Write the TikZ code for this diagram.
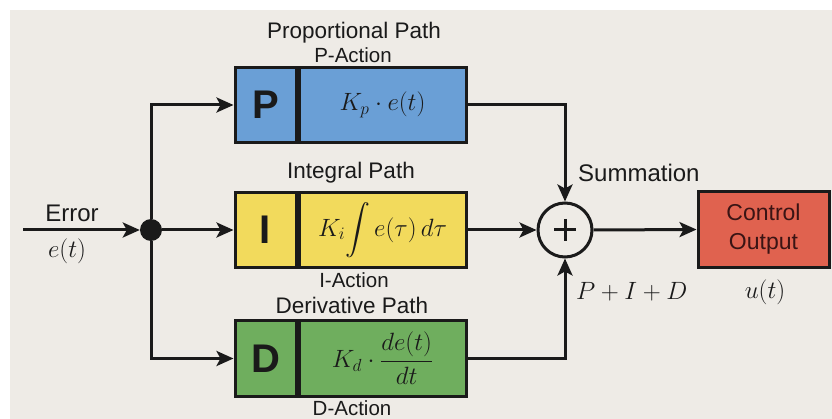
\documentclass[tikz,border=0pt]{standalone}
\usepackage{fix-cm}
\usepackage{amsmath}
\usepackage{exscale}
\usepackage{fontspec}
\setmainfont{Liberation Sans}
\usetikzlibrary{arrows.meta,calc}
\definecolor{bg}{HTML}{EEEBE6}
\definecolor{ink}{HTML}{1A1A1A}
\definecolor{pblue}{HTML}{6A9FD6}
\definecolor{iyel}{HTML}{F2DA5C}
\definecolor{dgreen}{HTML}{6FAE5E}
\definecolor{ored}{HTML}{E0624F}
\definecolor{otext}{HTML}{3A1414}
\begin{document}
\begin{tikzpicture}[x=1pt,y=-1pt,
  title/.style={font=\fontsize{22.5}{26}\selectfont, inner sep=0, text=ink},
  subt/.style={font=\fontsize{20.5}{24}\selectfont, inner sep=0, text=ink},
  lett/.style={draw=ink, line width=3pt, minimum width=61pt, minimum height=75pt, inner sep=0,
    font=\fontsize{40}{40}\selectfont\bfseries, text=ink},
  form/.style={draw=ink, line width=3pt, minimum width=167pt, minimum height=75pt, inner sep=0,
    font=\fontsize{25}{29}\selectfont, text=ink},
  wire/.style={line width=3pt, draw=ink},
  conn/.style={wire, -{Stealth[length=17pt,width=15pt,inset=4pt]}},
]
\useasboundingbox (0,0) rectangle (832,419);
\fill[white] (0,0) rectangle (832,419);
\fill[bg] (10,10) rectangle (832,419);

% blocks
\node[lett, fill=pblue] (pL) at (265.5,105) {P};
\node[form, fill=pblue, anchor=west] (pR) at (pL.east) {$K_p\cdot e(t)$};
\node[lett, fill=iyel] (iL) at (265.5,230) {I};
\node[form, fill=iyel, anchor=west] (iR) at (iL.east) {$\displaystyle K_i\!\int e(\tau)\,d\tau$};
\node[lett, fill=dgreen] (dL) at (265.5,358.5) {D};
\node[form, fill=dgreen, anchor=west] (dR) at (dL.east) {$\displaystyle K_d\cdot\frac{de(t)}{dt}$};

% labels
\node[title] (tp) at (354,33) {Proportional Path};
\node[subt] (sp) at (353,55) {P-Action};
\node[title] (ti) at (351,173) {Integral Path};
\node[subt] (si) at (354,280) {I-Action};
\node[title] (td) at (352,305) {Derivative Path};
\node[subt] (sd) at (352,408) {D-Action};

% junction and input
\node[circle, fill=ink, minimum size=22pt, inner sep=0] (j) at (151,230) {};
\coordinate (in) at (23,230);
\node[font=\fontsize{24}{28}\selectfont, inner sep=0, text=ink] (err) at (72,213) {Error};
\node[font=\fontsize{25}{29}\selectfont, inner sep=0, text=ink] (et) at (67,251) {$e(t)$};

% summation
\node[circle, draw=ink, line width=3pt, minimum size=54pt, inner sep=0] (s) at (565,230) {};
\draw[ink, line width=3pt] ($(s.center)+(-11,0)$) -- ($(s.center)+(11,0)$)
  ($(s.center)+(0,-11)$) -- ($(s.center)+(0,11)$);
\node[font=\fontsize{24}{28}\selectfont, inner sep=0, text=ink, anchor=west] (sm) at (578,173) {Summation};
\node[font=\fontsize{25}{29}\selectfont, inner sep=0, text=ink, anchor=west] (pid) at (576,292) {$P+I+D$};

% output
\node[draw=ink, line width=3pt, fill=ored, minimum width=131pt, minimum height=76pt, inner sep=0,
  align=center, font=\fontsize{23}{29}\selectfont, text=otext] (out) at (763.5,229.5) {Control\\Output};
\node[font=\fontsize{25}{29}\selectfont, inner sep=0, text=ink] (u) at (765,292) {$u(t)$};

% connectors
\draw[conn] (in) -- (j);
\draw[conn] (j) -- (iL.west);
\draw[conn] (j) |- (pL.west);
\draw[conn] (j) |- (dL.west);
\draw[conn] (pR.east) -| (s.north);
\draw[conn] (iR.east) -- (s.west);
\draw[conn] (dR.east) -| (s.south);
\draw[conn] (s.east) -- (out.west);
\end{tikzpicture}
\end{document}
